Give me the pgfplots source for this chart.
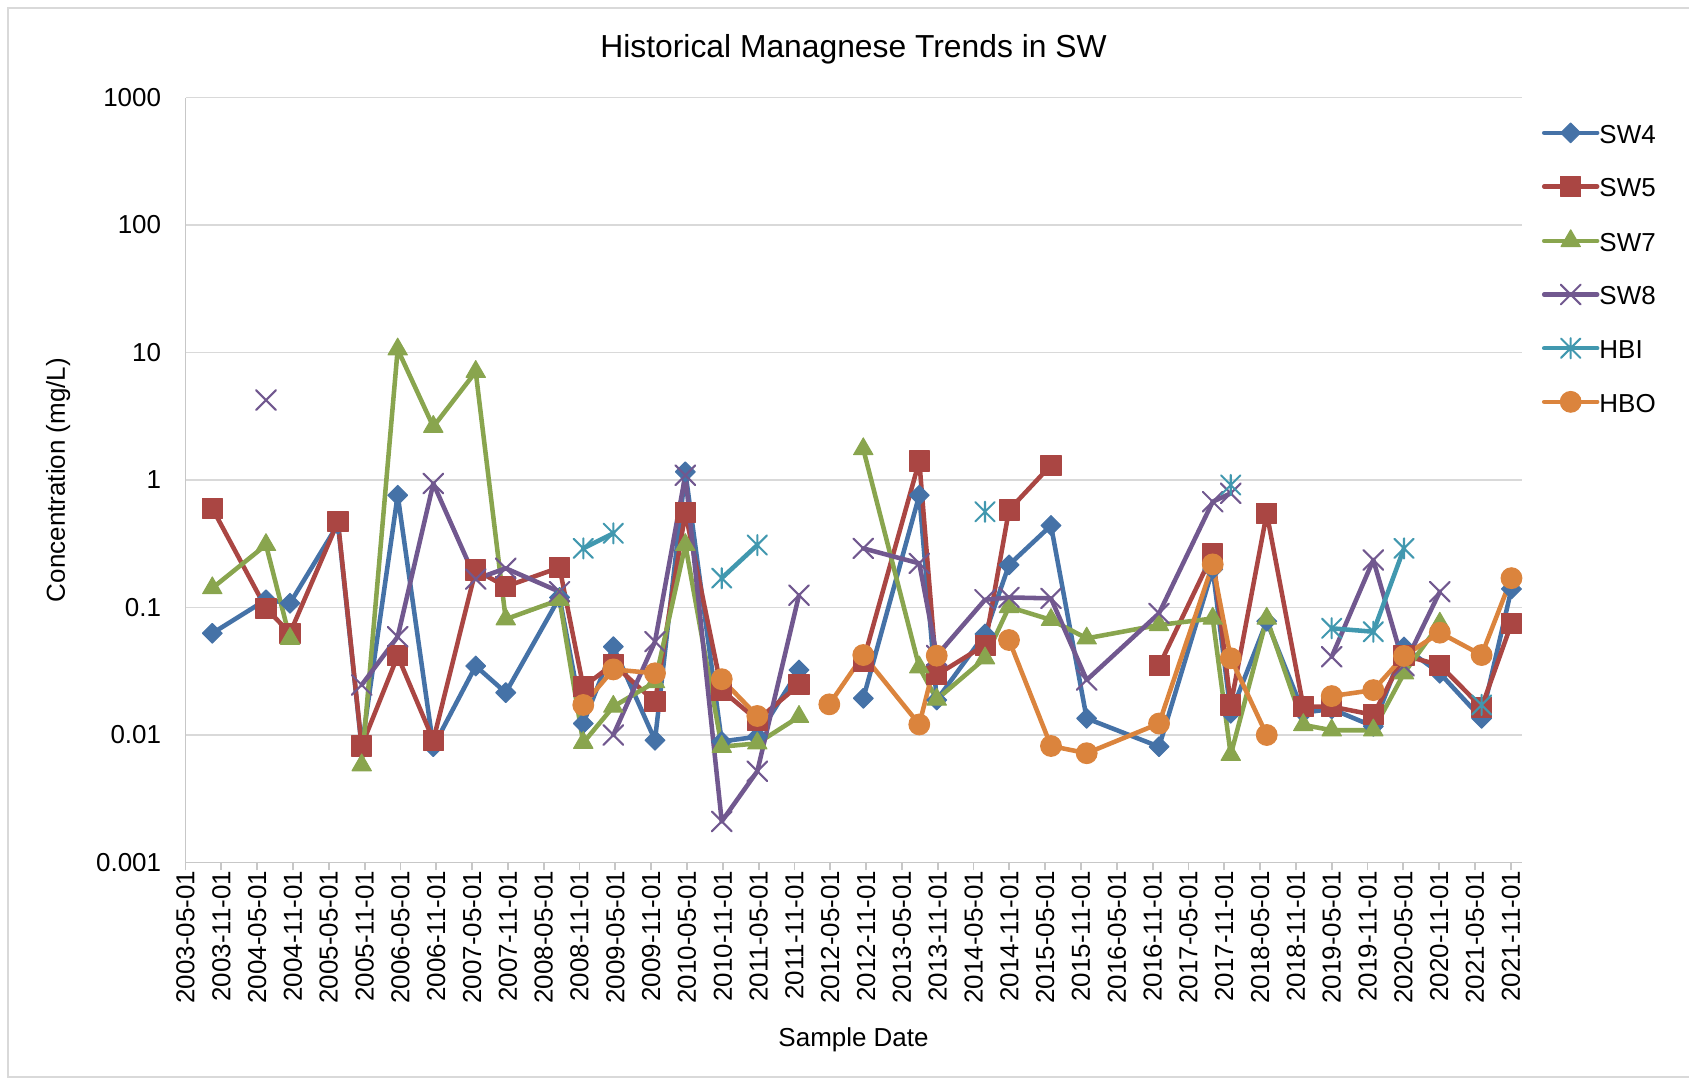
\documentclass[border=0pt]{standalone}
\usepackage{fontspec}
\setmainfont{Liberation Sans}
\usepackage{pgfplots}
\pgfplotsset{compat=1.18}
\definecolor{c1}{HTML}{4572A7}
\definecolor{c2}{HTML}{AA4643}
\definecolor{c3}{HTML}{89A54E}
\definecolor{c4}{HTML}{71588F}
\definecolor{c5}{HTML}{4198AF}
\definecolor{c6}{HTML}{DB843D}
\definecolor{gridc}{HTML}{D9D9D9}
\pgfdeclareplotmark{bigx}{%
  \pgfpathmoveto{\pgfqpoint{-\pgfplotmarksize}{-\pgfplotmarksize}}%
  \pgfpathlineto{\pgfqpoint{\pgfplotmarksize}{\pgfplotmarksize}}%
  \pgfpathmoveto{\pgfqpoint{-\pgfplotmarksize}{\pgfplotmarksize}}%
  \pgfpathlineto{\pgfqpoint{\pgfplotmarksize}{-\pgfplotmarksize}}%
  \pgfusepathqstroke}
\pgfdeclareplotmark{xstar}{%
  \pgfpathmoveto{\pgfqpoint{-\pgfplotmarksize}{-\pgfplotmarksize}}%
  \pgfpathlineto{\pgfqpoint{\pgfplotmarksize}{\pgfplotmarksize}}%
  \pgfpathmoveto{\pgfqpoint{-\pgfplotmarksize}{\pgfplotmarksize}}%
  \pgfpathlineto{\pgfqpoint{\pgfplotmarksize}{-\pgfplotmarksize}}%
  \pgfpathmoveto{\pgfqpoint{0pt}{-1.05\pgfplotmarksize}}%
  \pgfpathlineto{\pgfqpoint{0pt}{1.05\pgfplotmarksize}}%
  \pgfusepathqstroke}
\begin{document}
\begin{tikzpicture}
\useasboundingbox (0,0) rectangle (650.27pt,415.8pt);
\draw[draw=gridc, line width=0.8pt] (650.27pt,412.72pt) -- (3.08pt,412.72pt) -- (3.08pt,1.15pt) -- (650.27pt,1.15pt);
\begin{axis}[
  at={(71.42pt,83.74pt)}, anchor=south west,
  scale only axis, width=514.4pt, height=294.5pt,
  xmin=0, xmax=223.8,
  ymode=log, ymin=0.001, ymax=1000,
  axis lines=left, axis line style={draw=black!22, line width=0.7pt, -},
  clip=false,
  unbounded coords=jump,
  xtick={0,6,...,222},
  xticklabels={2003-05-01,2003-11-01,2004-05-01,2004-11-01,2005-05-01,2005-11-01,2006-05-01,2006-11-01,2007-05-01,2007-11-01,2008-05-01,2008-11-01,2009-05-01,2009-11-01,2010-05-01,2010-11-01,2011-05-01,2011-11-01,2012-05-01,2012-11-01,2013-05-01,2013-11-01,2014-05-01,2014-11-01,2015-05-01,2015-11-01,2016-05-01,2016-11-01,2017-05-01,2017-11-01,2018-05-01,2018-11-01,2019-05-01,2019-11-01,2020-05-01,2020-11-01,2021-05-01,2021-11-01},
  ytick={0.001,0.01,0.1,1,10,100,1000},
  yticklabels={0.001,0.01,0.1,1,10,100,1000},
  yminorticks=false,
  ymajorgrids, grid style={draw=gridc, line width=0.7pt},
  tick align=outside, major tick length=3pt,
  xtick style={draw=black!22, line width=0.7pt},
  ytick style={draw=none},
  tick label style={font=\fontsize{10}{12}\selectfont},
  yticklabel style={anchor=east, inner sep=0pt, xshift=-6.2pt},
  xticklabel style={rotate=90, anchor=east, inner sep=0pt},
  every axis title shift=0pt,
  title={Historical Managnese Trends in SW},
  title style={at={(0.5,1.0631)}, anchor=center, font=\fontsize{12.25}{14}\selectfont},
  xlabel={Sample Date},
  xlabel style={at={(0.5,-0.2323)}, anchor=center, font=\fontsize{10}{12}\selectfont},
  ylabel={Concentration (mg/L)},
  ylabel style={at={(-0.0954,0.5)}, anchor=center, font=\fontsize{10}{12}\selectfont},
  legend style={at={(1.0152,0.9674)}, anchor=north west, draw=none, fill=none, inner sep=0pt, outer sep=0pt, row sep=12.65pt, column sep=0pt, font=\fontsize{10}{12}\selectfont, nodes={inner sep=0pt, text height=8pt, text depth=0pt}},
  legend cell align=left,
  legend image code/.code={\draw[mark repeat=2,mark phase=2,#1] plot coordinates {(0pt,0pt) (10.2pt,0pt) (20.4pt,0pt)};},
  every axis plot/.append style={line width=1.75pt, line join=round, line cap=round},
]
\addplot[color=c1, mark=square*, mark size=2.7pt, mark options={solid, rotate=45, fill=c1, draw=c1, line width=0.4pt}] coordinates {
(4.49,0.0628)(13.48,0.115)(17.50,0.108)(25.54,0.45)(29.51,0.008)(35.54,0.76)(41.51,0.0081)(48.61,0.0348)(53.64,0.0215)(62.65,0.12)(66.63,0.0123)(71.66,0.0493)(78.64,0.0091)(83.72,1.16)(89.82,0.0089)(95.78,0.0097)(102.76,0.0324)(107.84,nan)(113.53,0.0194)(122.91,0.76)(125.83,0.0188)(133.92,0.062)(137.94,0.216)(144.97,0.44)(150.95,0.0135)(163.07,0.0081)(172.06,0.2)(175.08,0.0148)(181.11,0.078)(187.24,0.015)(191.99,0.016)(198.96,0.0117)(204.1,0.049)(210.1,0.0305)(217.1,0.0135)(222.1,0.14)};
\addlegendentry{SW4}
\addplot[color=c2, mark=square*, mark size=3.85pt, mark options={solid, fill=c2, draw=c2, line width=0.4pt}] coordinates {
(4.49,0.60)(13.48,0.0986)(17.50,0.063)(25.54,0.47)(29.51,0.0082)(35.54,0.0417)(41.51,0.0091)(48.61,0.197)(53.64,0.146)(62.65,0.206)(66.63,0.0239)(71.66,0.036)(78.64,0.0182)(83.72,0.555)(89.82,0.0225)(95.78,0.0131)(102.76,0.0247)(107.84,nan)(113.53,0.038)(122.91,1.41)(125.83,0.0296)(133.92,0.0508)(137.94,0.582)(144.97,1.31)(150.95,nan)(163.07,0.0348)(172.06,0.263)(175.08,0.0172)(181.11,0.548)(187.24,0.0167)(191.99,0.0167)(198.96,0.0144)(204.1,0.042)(210.1,0.0354)(217.1,0.0165)(222.1,0.075)};
\addlegendentry{SW5}
\addplot[color=c3, mark=triangle*, mark size=4.3pt, mark options={solid, fill=c3, draw=c3, line width=0.4pt}] coordinates {
(4.49,0.142)(13.48,0.31)(17.50,0.057)(25.54,nan)(29.51,0.0058)(35.54,10.6)(41.51,2.62)(48.61,7.07)(53.64,0.081)(62.65,0.115)(66.63,0.0087)(71.66,0.0167)(78.64,0.026)(83.72,0.31)(89.82,0.0081)(95.78,0.0086)(102.76,0.0139)(107.84,nan)(113.53,1.75)(122.91,0.034)(125.83,0.019)(133.92,0.040)(137.94,0.101)(144.97,0.080)(150.95,0.0573)(163.07,0.073)(172.06,0.082)(175.08,0.0070)(181.11,0.082)(187.24,0.012)(191.99,0.0109)(198.96,0.0109)(204.1,0.0305)(210.1,0.075)};
\addlegendentry{SW7}
\addplot[color=c4, mark=bigx, mark size=3.8pt, mark options={solid, draw=c4, line width=0.8pt}] coordinates {
(13.48,4.24)(17.50,nan)(29.51,0.0247)(35.54,0.059)(41.51,0.94)(48.61,0.167)(53.64,0.203)(62.65,0.133)(66.63,nan)(71.66,0.0100)(78.64,0.054)(83.72,1.09)(89.82,0.0021)(95.78,0.0052)(102.76,0.125)(107.84,nan)(113.53,0.291)(122.91,0.222)(125.83,0.042)(133.92,0.115)(137.94,0.12)(144.97,0.118)(150.95,0.027)(163.07,0.090)(172.06,0.676)(175.08,0.787)(181.11,nan)(191.99,0.0411)(198.96,0.236)(204.1,0.035)(210.1,0.133)};
\addlegendentry{SW8}
\addplot[color=c5, mark=xstar, mark size=3.7pt, mark options={solid, draw=c5, line width=0.8pt}] coordinates {
(66.63,0.291)(71.66,0.382)(78.64,nan)(89.82,0.170)(95.78,0.309)(102.76,nan)(133.92,0.564)(137.94,nan)(175.08,0.914)(181.11,nan)(191.99,0.0687)(198.96,0.0646)(204.1,0.291)(210.1,nan)(217.1,0.0172)};
\addlegendentry{HBI}
\addplot[color=c6, mark=*, mark size=4pt, mark options={solid, fill=c6, draw=c6, line width=0.4pt}] coordinates {
(66.63,0.0172)(71.66,0.0327)(78.64,0.0305)(83.72,nan)(89.82,0.0274)(95.78,0.0141)(102.76,nan)(107.84,0.0174)(113.53,0.0424)(122.91,0.0121)(125.83,0.0419)(133.92,nan)(137.94,0.0556)(144.97,0.0082)(150.95,0.0072)(163.07,0.0123)(172.06,0.218)(175.08,0.040)(181.11,0.010)(187.24,nan)(191.99,0.0202)(198.96,0.0225)(204.1,0.0417)(210.1,0.0635)(217.1,0.0424)(222.1,0.170)};
\addlegendentry{HBO}
\end{axis}
\end{tikzpicture}
\end{document}
